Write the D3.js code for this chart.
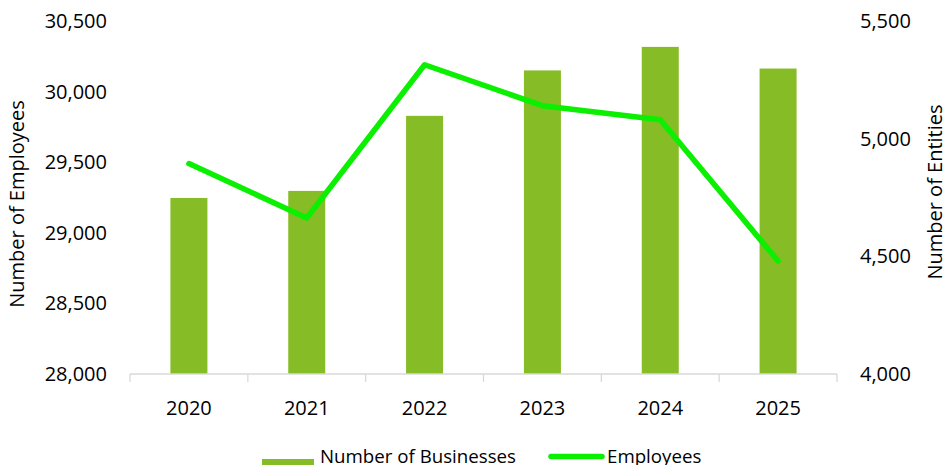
<!DOCTYPE html>
<html>
<head>
<meta charset="utf-8">
<script src="https://cdn.jsdelivr.net/npm/d3@7"></script>
<style>
  body { margin: 0; background: #fff; }
  text { font-family: "Open Sans", sans-serif; fill: #000; }
</style>
</head>
<body>
<div id="app"></div>
<script>
// chart data
const years = ["2020", "2021", "2022", "2023", "2024", "2025"];
const businesses = [4748, 4778, 5097, 5290, 5390, 5298];
const employees = [29490, 29105, 30190, 29900, 29800, 28800];
const leftTicks = [28000, 28500, 29000, 29500, 30000, 30500];
const rightTicks = [4000, 4500, 5000, 5500];

const W = 950, H = 465;
const margin = {top: 21, right: 113, bottom: 91, left: 130};
const width = W - margin.left - margin.right,
  height = H - margin.top - margin.bottom;

const svg = d3.select("#app")
  .append("svg")
    .attr("width", W)
    .attr("height", H);

const g = svg.append("g")
  .attr("transform", "translate(" + margin.left + "," + margin.top + ")");

// scales
const x = d3.scaleBand()
  .domain(years)
  .range([0, width]);

const yLeft = d3.scaleLinear()
  .domain([28000, 30500])
  .range([height, 0]);

const yRight = d3.scaleLinear()
  .domain([4000, 5500])
  .range([height, 0]);

const fmt = d3.format(",");

// left axis labels
g.append("g")
  .call(d3.axisLeft(yLeft).tickValues(leftTicks).tickFormat(fmt).tickSize(0).tickPadding(23))
  .call(a => a.select(".domain").remove())
  .selectAll("text")
    .style("font-size", "20px")
    .attr("fill", "#000");

// right axis labels
g.append("g")
  .attr("transform", "translate(" + width + ",0)")
  .call(d3.axisRight(yRight).tickValues(rightTicks).tickFormat(fmt).tickSize(0).tickPadding(23))
  .call(a => a.select(".domain").remove())
  .selectAll("text")
    .style("font-size", "20px")
    .attr("fill", "#000");

// bars
g.selectAll(".bar")
  .data(years)
  .enter()
  .append("rect")
    .attr("class", "bar")
    .attr("x", d => x(d) + x.bandwidth() / 2 - 18.5)
    .attr("width", 37)
    .attr("y", (d, i) => yRight(businesses[i]))
    .attr("height", (d, i) => height - yRight(businesses[i]))
    .style("fill", "#86BC25");

// x axis
const xAxis = g.append("g")
  .attr("transform", "translate(0," + height + ")");
xAxis.append("line")
  .attr("x1", 0).attr("x2", width)
  .attr("stroke", "#d9d9d9").attr("stroke-width", 1.3);
xAxis.selectAll(".tk")
  .data(years.concat(["end"]))
  .enter()
  .append("line")
    .attr("x1", (d, i) => i * x.step())
    .attr("x2", (d, i) => i * x.step())
    .attr("y1", 0).attr("y2", 8)
    .attr("stroke", "#d9d9d9").attr("stroke-width", 1.3);
xAxis.selectAll(".lbl")
  .data(years)
  .enter()
  .append("text")
    .attr("x", d => x(d) + x.bandwidth() / 2)
    .attr("y", 41)
    .attr("text-anchor", "middle")
    .style("font-size", "20px")
    .text(d => d);

// line
const line = d3.line()
  .x((d, i) => x(years[i]) + x.bandwidth() / 2)
  .y(d => yLeft(d));

g.append("path")
  .datum(employees)
  .attr("d", line)
  .attr("fill", "none")
  .attr("stroke", "#0AF000")
  .attr("stroke-width", 5.5)
  .attr("stroke-linejoin", "round")
  .attr("stroke-linecap", "round");

// axis titles
svg.append("text")
  .attr("transform", "translate(24,204) rotate(-90)")
  .attr("text-anchor", "middle")
  .style("font-size", "20px")
  .text("Number of Employees");

svg.append("text")
  .attr("transform", "translate(942,192) rotate(-90)")
  .attr("text-anchor", "middle")
  .style("font-size", "20px")
  .text("Number of Entities");

// legend
const legend = svg.append("g");
legend.append("rect")
  .attr("x", 262).attr("y", 459)
  .attr("width", 52).attr("height", 10)
  .style("fill", "#86BC25");
legend.append("text")
  .attr("x", 320).attr("y", 463)
  .style("font-size", "18.7px")
  .text("Number of Businesses");
legend.append("line")
  .attr("x1", 551).attr("x2", 602)
  .attr("y1", 456.5).attr("y2", 456.5)
  .attr("stroke", "#0AF000")
  .attr("stroke-width", 5.5)
  .attr("stroke-linecap", "round");
legend.append("text")
  .attr("x", 607).attr("y", 463)
  .style("font-size", "18.7px")
  .text("Employees");
</script>
</body>
</html>
